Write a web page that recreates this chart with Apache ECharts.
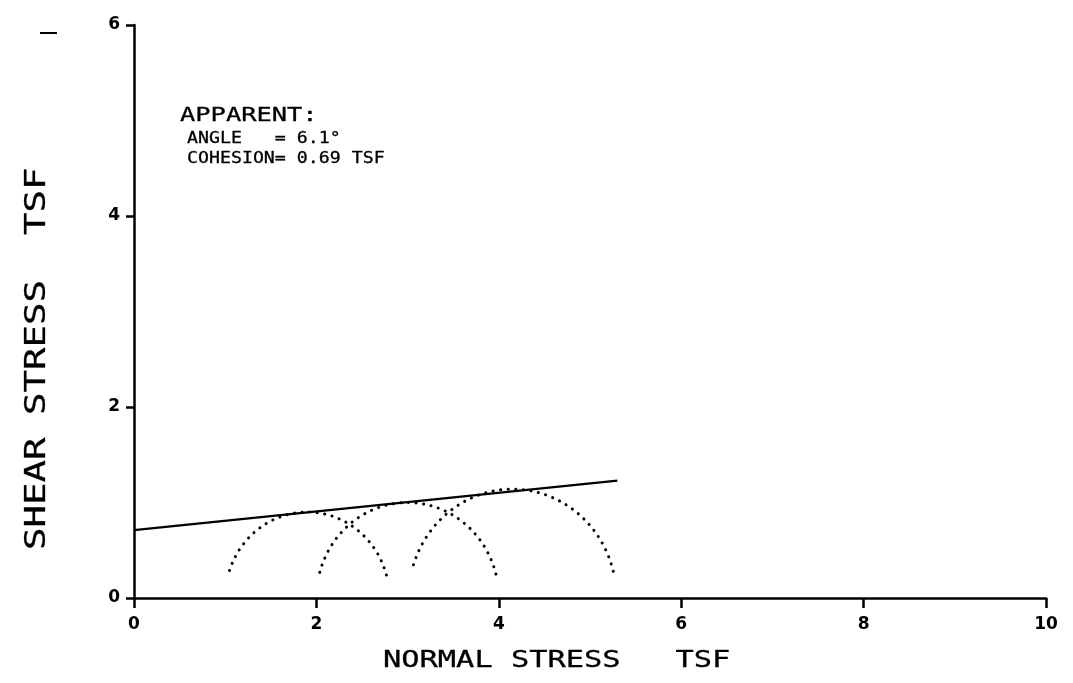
<!DOCTYPE html>
<html><head><meta charset="utf-8">
<script src="https://cdn.jsdelivr.net/npm/echarts@6/dist/echarts.min.js"></script>
<style>html,body{margin:0;padding:0;background:#fff}#c{width:1073px;height:683px}</style>
</head><body><div id="c"></div>
<script>
// ---- data ----
const xMin = 0, xMax = 10, xStep = 2;
const yMin = 0, yMax = 6, yStep = 2;
const circleCenter = [1.9, 3.0, 4.15];   // TSF, normal stress of circle centres
const circleRadius = [0.9, 1.0, 1.14];   // TSF
const arcEndY = [0.24, 0.25, 0.28];      // shear stress where each dotted arc stops
const envelopeX = [0, 5.3];
const envelopeY = [0.71, 1.23];
const xAxisTitle = 'NORMAL STRESS   TSF';
const yAxisTitle = 'SHEAR STRESS  TSF';
const noteTitle = 'APPARENT:';
const noteLine1 = 'ANGLE   = 6.1°';
const noteLine2 = 'COHESION= 0.69 TSF';

const mono = '"DejaVu Sans Mono"';
const chart = echarts.init(document.getElementById('c'), null, {renderer: 'canvas'});

const circles = circleCenter.map((c, i) => [c, circleRadius[i], arcEndY[i]]);

function plotText(str, x, y, size, sx, opts) {
  return Object.assign({
    type: 'text', x: x, y: y, scaleX: sx, silent: true,
    style: {text: str, font: size + 'px ' + mono, fill: '#000', stroke: '#000', lineWidth: 0.3,
            align: 'left', verticalAlign: 'middle'}
  }, opts || {});
}

chart.setOption({
  animation: false,
  backgroundColor: '#fff',
  grid: {left: 134, right: 27, top: 25, bottom: 85, containLabel: false},
  xAxis: {
    type: 'value', min: xMin, max: xMax, interval: xStep,
    axisLine: {lineStyle: {color: '#000', width: 2.5}},
    axisTick: {show: true, length: 10, lineStyle: {color: '#000', width: 2.5}},
    axisLabel: {margin: 18, fontFamily: 'DejaVu Sans', fontSize: 17, fontWeight: 'bold', color: '#000'},
    splitLine: {show: false}
  },
  yAxis: {
    type: 'value', min: yMin, max: yMax, interval: yStep,
    axisLine: {lineStyle: {color: '#000', width: 2.5}},
    axisTick: {show: true, length: 8, lineStyle: {color: '#000', width: 2.5}},
    axisLabel: {margin: 14, fontFamily: 'DejaVu Sans', fontSize: 17, fontWeight: 'bold', color: '#000'},
    splitLine: {show: false}
  },
  graphic: [
    {type: 'line', shape: {x1: 40, y1: 33, x2: 57, y2: 33}, style: {stroke: '#000', lineWidth: 2}},
    plotText(noteTitle, 180, 116, 20, 1.27),
    plotText(noteLine1, 187, 139, 16, 1.14),
    plotText(noteLine2, 187, 159, 16, 1.14),
    plotText(xAxisTitle, 383, 661, 23, 1.32),
    plotText(yAxisTitle, 38, 550, 28, 1.335, {rotation: Math.PI / 2})
  ],
  series: [
    {
      type: 'line', data: envelopeX.map((x, i) => [x, envelopeY[i]]),
      symbol: 'none', lineStyle: {color: '#000', width: 2.2}
    },
    {
      type: 'custom', data: circles,
      renderItem: function (params, api) {
        const c = api.value(0), r = api.value(1), yEnd = api.value(2);
        const a0 = Math.asin(yEnd / r);
        const pts = [];
        const n = 80;
        for (let k = 0; k <= n; k++) {
          const t = a0 + (Math.PI - 2 * a0) * k / n;
          pts.push(api.coord([c + r * Math.cos(t), r * Math.sin(t)]));
        }
        return {
          type: 'polyline', shape: {points: pts},
          style: {stroke: '#000', fill: null, lineWidth: 3, lineDash: [0.1, 7.5], lineCap: 'round'}
        };
      }
    }
  ]
});
</script></body></html>
